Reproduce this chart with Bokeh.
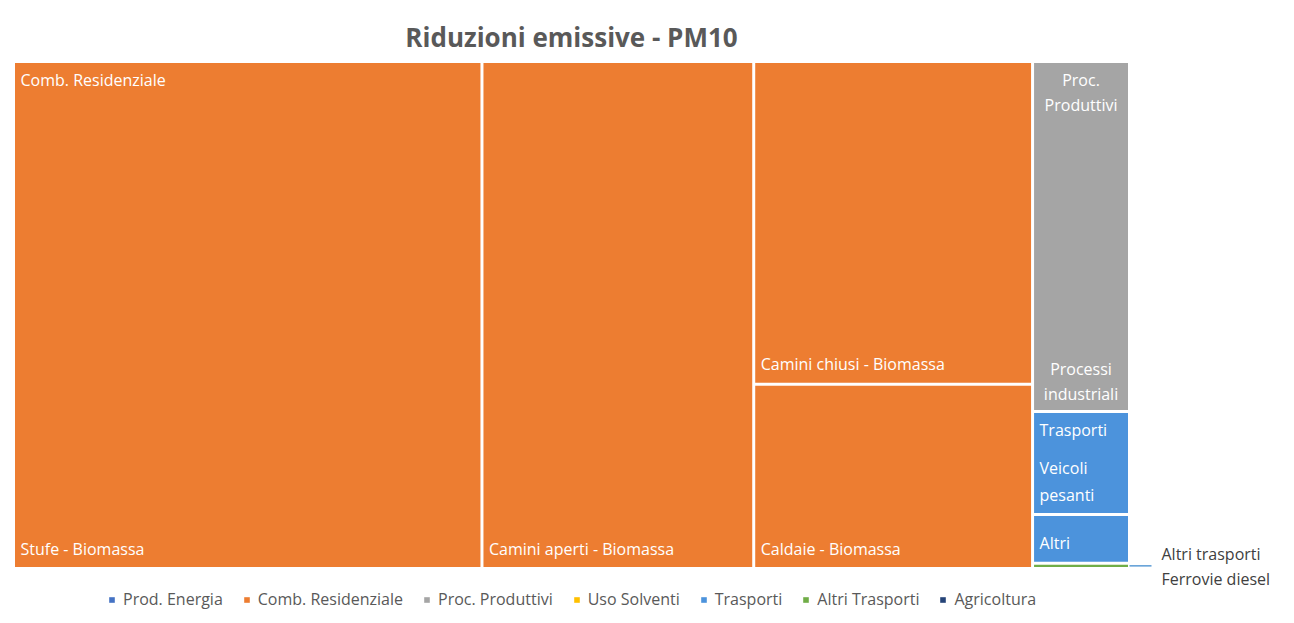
from bokeh.plotting import figure
from bokeh.models import Range1d, Legend, LegendItem, ColumnDataSource
from bokeh.core.properties import value
from bokeh.embed import file_html
from bokeh.resources import INLINE

# ---------------- data ----------------
title = "Riduzioni emissive - PM10"
groups = ["Comb. Residenziale", "Comb. Residenziale", "Comb. Residenziale", "Comb. Residenziale",
          "Proc. Produttivi", "Trasporti", "Trasporti", "Altri Trasporti"]
leaves = ["Stufe - Biomassa", "Camini aperti - Biomassa", "Camini chiusi - Biomassa", "Caldaie - Biomassa",
          "Processi industriali", "Veicoli pesanti", "Altri", "Ferrovie diesel"]
values = [231, 134, 87.5, 50, 33, 9.7, 4.6, 0.5]

legend_labels = ["Prod. Energia", "Comb. Residenziale", "Proc. Produttivi", "Uso Solventi",
                 "Trasporti", "Altri Trasporti", "Agricoltura"]
legend_colors = ["#4472C4", "#ED7D31", "#A5A5A5", "#FFC000", "#4C93DC", "#70AD47", "#264478"]
color_of = dict(zip(legend_labels, legend_colors))

# ---------------- squarified treemap ----------------
def worst(row, w):
    s = sum(row)
    return max(max(w * w * r / (s * s), (s * s) / (w * w * r)) for r in row)

def layout_row(row, x, y, dx, dy):
    s = sum(row)
    rects = []
    if dx >= dy:  # column at left
        width = s / dy
        yy = y
        for r in row:
            h = r / width
            rects.append((x, yy, width, h))
            yy += h
        return rects, (x + width, y, dx - width, dy)
    else:  # strip on top
        height = s / dx
        xx = x
        for r in row:
            w = r / height
            rects.append((xx, y, w, height))
            xx += w
        return rects, (x, y + height, dx, dy - height)

def squarify(vals, x, y, dx, dy):
    total = sum(vals)
    areas = [v * dx * dy / total for v in vals]
    rects = []
    rect = (x, y, dx, dy)
    i = 0
    while i < len(areas):
        row = [areas[i]]
        i += 1
        side = min(rect[2], rect[3])
        while i < len(areas) and worst(row + [areas[i]], side) <= worst(row, side):
            row.append(areas[i])
            i += 1
        r, rect = layout_row(row, *rect)
        rects.extend(r)
    return rects

group_order = []
for g in groups:
    if g not in group_order:
        group_order.append(g)
group_sums = [sum(v for gg, v in zip(groups, values) if gg == g) for g in group_order]

X0, Y0, W, H = 13, 61, 1116, 507
group_rects = dict(zip(group_order, squarify(group_sums, X0, Y0, W, H)))
leaf_rects = []
for g in group_order:
    vals = [v for gg, v in zip(groups, values) if gg == g]
    leaf_rects.extend(squarify(vals, *group_rects[g]))

gap = 1.5
src = ColumnDataSource(dict(
    left=[r[0] + gap for r in leaf_rects],
    right=[r[0] + r[2] - gap for r in leaf_rects],
    top=[r[1] + gap for r in leaf_rects],
    bottom=[r[1] + r[3] - gap for r in leaf_rects],
    color=[color_of[g] for g in groups],
))

# ---------------- figure ----------------
FW, FH = 1290, 620
p = figure(width=FW, height=FH, output_backend="svg", toolbar_location=None,
           x_range=Range1d(0, FW), y_range=Range1d(FH, 0),
           x_axis_location=None, y_axis_location=None, min_border=0)
p.grid.visible = False
p.outline_line_color = None
p.background_fill_color = "white"

p.quad(left="left", right="right", top="top", bottom="bottom", color="color", line_color=None, source=src)

font = value("Open Sans")
lab_size = "16px"

def txt(x, y, s, align="left", size=lab_size, color="white", lh=1.2):
    p.text(x=[x], y=[y], text=[s], text_font=font, text_font_size=size, text_color=color,
           text_align=align, text_baseline="middle", text_line_height=lh)

shown_group = set()
for g, leaf, r in zip(groups, leaves, leaf_rects):
    x, y, w, h = r
    if h < 20:
        ym = y + h / 2
        p.line(x=[x + w, x + w + 22], y=[ym, ym], line_color="#5B9BD5", line_width=1.5)
        txt(x + w + 32, ym - 12, "Altri trasporti", color="#404040")
        txt(x + w + 32, ym + 13, leaf, color="#404040")
        continue
    narrow = w < 150
    if g not in shown_group:
        shown_group.add(g)
        if narrow and g == "Proc. Produttivi":
            txt(x + w / 2, y + 31, "Proc.\nProduttivi", align="center", lh=1.1)
        else:
            txt(x + 7, y + 18, g)
    if narrow and g == "Proc. Produttivi":
        txt(x + w / 2, y + h - 30, "Processi\nindustriali", align="center", lh=1.15)
        continue
    if narrow and " " in leaf:
        a, b = leaf.split(" ", 1)
        txt(x + 7, y + h - 33, a + "\n" + b, lh=1.2)
    else:
        txt(x + 7, y + h - 20, leaf)

# title
p.text(x=[X0 + W / 2], y=[36], text=[title], text_font=font, text_font_size="26px",
       text_font_style="bold", text_color="#595959", text_align="center", text_baseline="middle")

# legend (square swatches)
items = []
for lab, c in zip(legend_labels, legend_colors):
    r = p.quad(left=[-1000], right=[-999], top=[-1000], bottom=[-999], color=c, line_color=None)
    items.append(LegendItem(label=lab, renderers=[r]))
legend = Legend(items=items, orientation="horizontal", location=(108, 10),
                glyph_width=7, glyph_height=7, label_text_font="Open Sans",
                label_text_font_size="16px", label_text_color="#595959",
                label_standoff=8, spacing=20, padding=0, margin=0,
                border_line_alpha=0, background_fill_alpha=0, label_height=20)
p.add_layout(legend, "center")

open("out.html", "w").write(file_html(p, INLINE))
